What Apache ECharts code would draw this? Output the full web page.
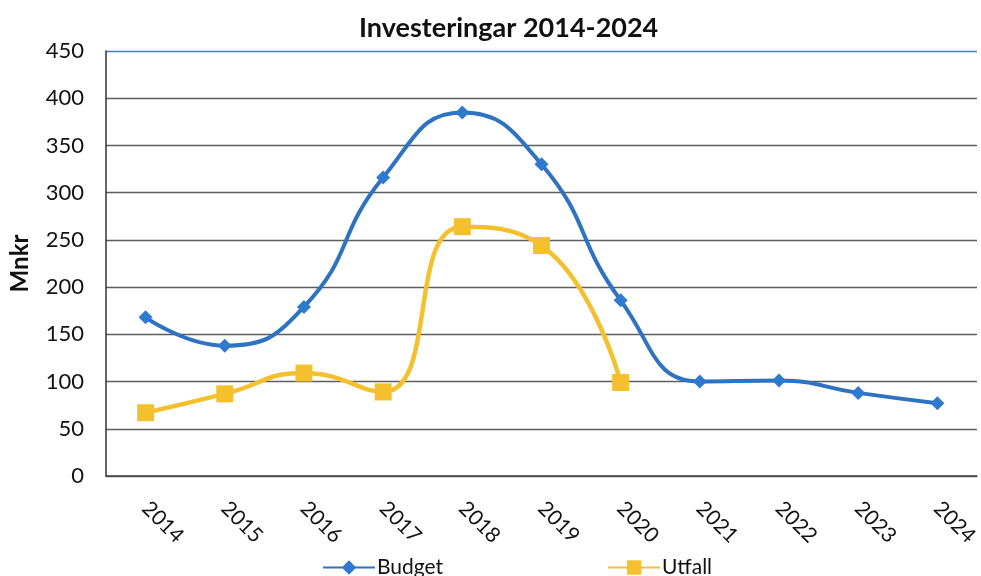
<!DOCTYPE html>
<html>
<head>
<meta charset="utf-8">
<script src="https://cdn.jsdelivr.net/npm/echarts@6/dist/echarts.min.js"></script>
<style>
html,body{margin:0;padding:0;background:#fff;}
#chart{width:981px;height:576px;}
</style>
</head>
<body>
<div id="chart"></div>
<script>
const titleText = 'Investeringar 2014-2024';
const yAxisName = 'Mnkr';
const categories = ['2014','2015','2016','2017','2018','2019','2020','2021','2022','2023','2024'];
const budget = [168, 138, 179, 316, 385, 330, 186, 100, 101, 88, 77];
const utfall = [67, 87, 109, 89, 264, 244, 99];
const yTicks = [0, 50, 100, 150, 200, 250, 300, 350, 400, 450];

const FONT = 'Lato, "Open Sans", sans-serif';
const chart = echarts.init(document.getElementById('chart'), null, {renderer: 'canvas'});
const gridColors = yTicks.map((v, i) => i === yTicks.length - 1 ? '#4a78c8' : '#5e5e5e');

chart.setOption({
  animation: false,
  backgroundColor: '#ffffff',
  textStyle: {fontFamily: FONT},
  title: {
    text: titleText,
    left: 354,
    top: 10,
    textStyle: {fontFamily: FONT, fontSize: 27, fontWeight: 'bold', color: '#111'}
  },
  legend: {
    bottom: -7,
    left: 317,
    itemWidth: 52,
    itemHeight: 18,
    itemGap: 164,
    textStyle: {fontFamily: FONT, fontSize: 21, color: '#111', padding: [0, 0, 0, -3]},
    data: ['Budget', 'Utfall']
  },
  grid: {left: 102, right: 0, top: 51, bottom: 100, containLabel: false},
  xAxis: {
    type: 'category',
    data: categories,
    boundaryGap: true,
    axisLine: {lineStyle: {color: '#444', width: 1.5}},
    axisTick: {show: false},
    axisLabel: {rotate: -45, margin: 29, fontSize: 21, color: '#111', fontFamily: FONT}
  },
  yAxis: {
    type: 'value',
    min: 0,
    max: 450,
    interval: 50,
    name: yAxisName,
    nameLocation: 'middle',
    nameGap: 74,
    nameTextStyle: {fontFamily: FONT, fontSize: 24, fontWeight: 'bold', color: '#111'},
    axisLine: {show: true, lineStyle: {color: '#333', width: 1.5}},
    axisTick: {show: false},
    axisLabel: {margin: 22, fontSize: 22, color: '#111', fontFamily: FONT},
    splitLine: {show: true, lineStyle: {color: gridColors, width: 1.3}}
  },
  series: [
    {
      name: 'Budget',
      type: 'line',
      data: budget,
      smooth: 0.5,
      symbol: 'diamond',
      symbolSize: 14,
      lineStyle: {color: '#2e72c2', width: 4},
      itemStyle: {color: '#2e7ad0'},
      z: 3
    },
    {
      name: 'Utfall',
      type: 'line',
      data: utfall,
      smooth: 0.5,
      symbol: 'rect',
      symbolSize: 17,
      lineStyle: {color: '#f4c02e', width: 4.5},
      itemStyle: {color: '#f4c02e'},
      z: 2
    }
  ]
});
</script>
</body>
</html>
